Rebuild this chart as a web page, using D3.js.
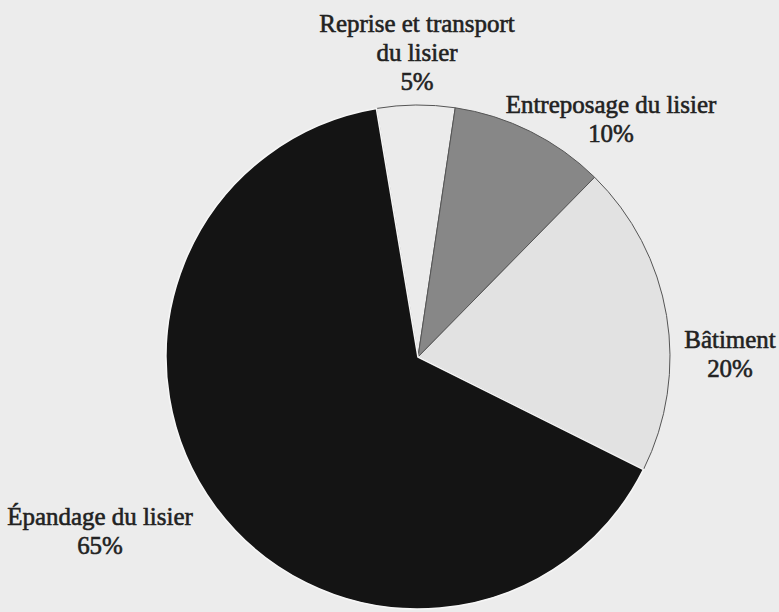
<!DOCTYPE html>
<html lang="fr">
<head>
    <meta charset="UTF-8">
    <title>Répartition</title>
    <script src="https://d3js.org/d3.v7.min.js"></script>
    <style>
        body {
            margin: 0;
            background: #ececec;
        }
        svg {
            display: block;
        }
        .label {
            font-family: "Liberation Serif", "DejaVu Serif", serif;
            font-size: 26px;
            fill: #222;
            stroke: #222;
            stroke-width: 0.6px;
        }
    </style>
</head>
<body>
    <div id="chart"></div>
    <script>
        // data
        const categories = ['Reprise et transport du lisier', 'Entreposage du lisier', 'Bâtiment', 'Épandage du lisier'];
        const values = [5, 10, 20, 65];
        const labelLines = [
            ['Reprise et transport', 'du lisier', '5%'],
            ['Entreposage du lisier', '10%'],
            ['Bâtiment', '20%'],
            ['Épandage du lisier', '65%']
        ];

        // layout
        const width = 779, height = 612;
        const cx = 418, cy = 357, radius = 252;
        const startDeg = -9.5;
        const fills = ['#ebebeb', '#878787', '#e2e2e2', '#141414'];
        const labelPos = [[417, 32], [611, 113], [730, 348], [100, 525]];
        const lineGap = 29;

        const svg = d3.select('#chart')
            .append('svg')
            .attr('width', width)
            .attr('height', height);

        const pie = d3.pie()
            .sort(null)
            .value(d => d)
            .startAngle(startDeg * Math.PI / 180)
            .endAngle((startDeg + 360) * Math.PI / 180);

        const arc = d3.arc()
            .innerRadius(0)
            .outerRadius(radius);

        const arcs = pie(values);

        const g = svg.append('g')
            .attr('transform', `translate(${cx},${cy})`);

        // light slices first, dark slice on top with its white halo
        g.selectAll('path')
            .data(arcs)
            .enter().append('path')
            .attr('d', arc)
            .attr('fill', (d, i) => fills[i])
            .attr('stroke', (d, i) => i === 3 ? '#f6f6f6' : '#555')
            .attr('stroke-width', (d, i) => i === 3 ? 1.6 : 1)
            .attr('stroke-linejoin', 'round');

        const labels = svg.selectAll('text.label')
            .data(labelLines)
            .enter().append('text')
            .attr('class', 'label')
            .attr('text-anchor', 'middle')
            .attr('transform', (d, i) => `translate(${labelPos[i][0]},${labelPos[i][1]}) scale(0.96,1)`);

        labels.each(function (lines) {
            d3.select(this).selectAll('tspan')
                .data(lines)
                .enter().append('tspan')
                .attr('x', 0)
                .attr('y', (l, j) => j * lineGap)
                .text(l => l);
        });
    </script>
</body>
</html>
